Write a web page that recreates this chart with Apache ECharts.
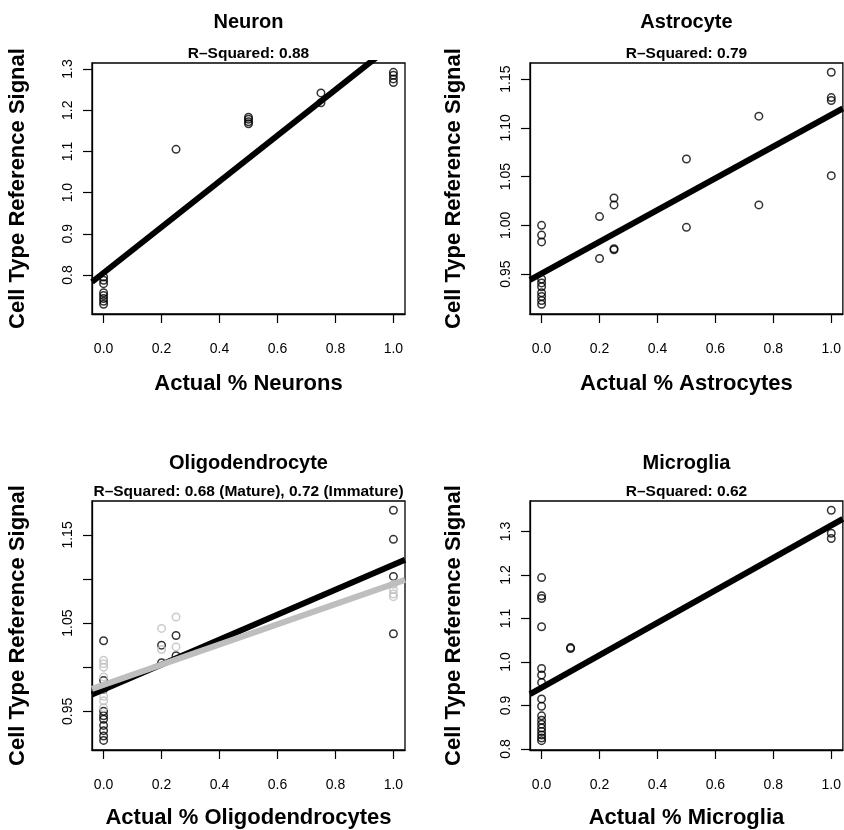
<!DOCTYPE html>
<html>
<head>
<meta charset="utf-8">
<script src="https://cdn.jsdelivr.net/npm/echarts@6/dist/echarts.min.js"></script>
<style>
html,body{margin:0;padding:0;background:#fff;}
#chart{width:844px;height:830px;}
</style>
</head>
<body>
<div id="chart"></div>
<script>
// ---------------- data ----------------
const panelTitles = ['Neuron', 'Astrocyte', 'Oligodendrocyte', 'Microglia'];
const panelSubtitles = ['R\u2013Squared: 0.88', 'R\u2013Squared: 0.79',
  'R\u2013Squared: 0.68 (Mature), 0.72 (Immature)', 'R\u2013Squared: 0.62'];
const xAxisTitles = ['Actual % Neurons', 'Actual % Astrocytes',
  'Actual % Oligodendrocytes', 'Actual % Microglia'];
const yAxisTitle = 'Cell Type Reference Signal';
const xTicks = [0, 0.2, 0.4, 0.6, 0.8, 1.0];

const neuronX = [0,0,0,0,0,0,0,0, 0.25, 0.5,0.5,0.5,0.5, 0.75,0.75, 1,1,1,1];
const neuronY = [0.795,0.787,0.779,0.757,0.750,0.743,0.736,0.729, 1.105,
  1.183,1.178,1.172,1.167, 1.242,1.218, 1.292,1.285,1.276,1.267];
const neuronFitX = [-0.04, 1.04];
const neuronFitY = [0.783, 1.383];
const neuronYTicks = [0.8, 0.9, 1.0, 1.1, 1.2, 1.3];
const neuronYLabels = [0.8, 0.9, 1.0, 1.1, 1.2, 1.3];

const astroX = [0,0,0,0,0,0,0,0,0,0, 0.2,0.2, 0.25,0.25,0.25,0.25, 0.5,0.5, 0.75,0.75, 1,1,1,1];
const astroY = [1.000,0.990,0.983,0.945,0.941,0.937,0.931,0.927,0.923,0.919,
  1.009,0.966, 1.028,1.021,0.976,0.975, 1.068,0.998, 1.112,1.021, 1.157,1.131,1.128,1.051];
const astroFitX = [-0.04, 1.04];
const astroFitY = [0.944, 1.120];
const astroYTicks = [0.95, 1.00, 1.05, 1.10, 1.15];
const astroYLabels = [0.95, 1.00, 1.05, 1.10, 1.15];

const oligoMatureX = [0,0,0,0,0,0,0,0,0,0, 0.2,0.2, 0.25,0.25, 1,1,1,1];
const oligoMatureY = [1.030,0.985,0.975,0.950,0.945,0.941,0.934,0.928,0.922,0.917,
  1.025,1.005, 1.036,1.013, 1.178,1.145,1.103,1.038];
const oligoImmatureX = [0,0,0,0,0,0,0,0, 0.2,0.2, 0.25,0.25, 1,1,1,1];
const oligoImmatureY = [1.008,1.004,1.000,0.989,0.978,0.967,0.962,0.954,
  1.044,1.020, 1.057,1.023, 1.094,1.088,1.083,1.080];
const oligoMatureFitX = [-0.04, 1.04];
const oligoMatureFitY = [0.969, 1.122];
const oligoImmatureFitX = [-0.04, 1.04];
const oligoImmatureFitY = [0.9755, 1.099];
const oligoYTicks = [0.95, 1.00, 1.05, 1.10, 1.15];
const oligoYLabels = [0.95, 1.05, 1.15];

const microX = [0,0,0,0,0,0,0,0,0,0,0,0,0,0,0,0,0, 0.1,0.1, 1,1,1];
const microY = [1.194,1.152,1.146,1.081,0.985,0.970,0.953,0.915,0.898,0.876,
  0.866,0.857,0.848,0.840,0.832,0.825,0.819, 1.033,1.031, 1.349,1.296,1.284];
const microFitX = [-0.04, 1.04];
const microFitY = [0.926, 1.329];
const microYTicks = [0.8, 0.9, 1.0, 1.1, 1.2, 1.3];
const microYLabels = [0.8, 0.9, 1.0, 1.1, 1.2, 1.3];

// ---------------- layout / style ----------------
const FONT = '"Liberation Sans", Arial, Helvetica, sans-serif';
const zip = (xs, ys) => xs.map((x, i) => [x, ys[i]]);

const grids = [
  {left: 92, top: 63, width: 313, height: 251},
  {left: 530, top: 63, width: 313, height: 251},
  {left: 92, top: 501, width: 313, height: 250},
  {left: 530, top: 501, width: 313, height: 250}
];
const yRanges = [[0.7053, 1.3146], [0.9091, 1.1665], [0.9061, 1.1885], [0.7975, 1.3702]];
const yTickSets = [neuronYTicks, astroYTicks, oligoYTicks, microYTicks];
const yLabelSets = [neuronYLabels, astroYLabels, oligoYLabels, microYLabels];
const yDecimals = [1, 2, 2, 1];
const xNameGaps = [59, 59, 57, 57];
const yNameGaps = [63, 65, 63, 65];

const tickStyle = {show: true, inside: false, length: 9, lineStyle: {color: '#000', width: 1.2}};
const lineStyleAxis = {show: true, onZero: false, lineStyle: {color: '#000', width: 1.3}};

const xAxes = grids.map((g, i) => ({
  type: 'value', gridIndex: i, min: -0.04, max: 1.04,
  axisLine: lineStyleAxis,
  splitLine: {show: false},
  axisTick: Object.assign({customValues: xTicks}, tickStyle),
  axisLabel: {customValues: xTicks, color: '#000', fontSize: 14, fontFamily: FONT, margin: 28,
    formatter: v => v.toFixed(1)},
  name: xAxisTitles[i], nameLocation: 'middle', nameGap: xNameGaps[i],
  nameTextStyle: {color: '#000', fontSize: 22, fontWeight: 'bold', fontFamily: FONT}
}));

const yAxes = grids.map((g, i) => ({
  type: 'value', gridIndex: i, min: yRanges[i][0], max: yRanges[i][1],
  axisLine: lineStyleAxis,
  splitLine: {show: false},
  axisTick: Object.assign({customValues: yTickSets[i]}, tickStyle),
  axisLabel: {customValues: yLabelSets[i], rotate: 90, color: '#000', fontSize: 14,
    fontFamily: FONT, margin: 17, formatter: v => v.toFixed(yDecimals[i])},
  name: yAxisTitle, nameLocation: 'middle', nameGap: yNameGaps[i],
  nameTextStyle: {color: '#000', fontSize: 22, fontWeight: 'bold', fontFamily: FONT}
}));

const circle = (color) => ({
  type: 'scatter', symbol: 'circle', symbolSize: 7.5, silent: true,
  itemStyle: {color: 'rgba(0,0,0,0)', borderColor: color, borderWidth: 1.5}
});
const fitLine = (color) => ({
  type: 'line', showSymbol: false, symbol: 'none', clip: true, silent: true,
  lineStyle: {color: color, width: 6, cap: 'butt'}
});

const series = [
  Object.assign(circle('#000'), {xAxisIndex: 0, yAxisIndex: 0, data: zip(neuronX, neuronY)}),
  Object.assign(fitLine('#000'), {xAxisIndex: 0, yAxisIndex: 0, data: zip(neuronFitX, neuronFitY)}),
  Object.assign(circle('#000'), {xAxisIndex: 1, yAxisIndex: 1, data: zip(astroX, astroY)}),
  Object.assign(fitLine('#000'), {xAxisIndex: 1, yAxisIndex: 1, data: zip(astroFitX, astroFitY)}),
  Object.assign(circle('#000'), {xAxisIndex: 2, yAxisIndex: 2, data: zip(oligoMatureX, oligoMatureY)}),
  Object.assign(circle('#bebebe'), {xAxisIndex: 2, yAxisIndex: 2, data: zip(oligoImmatureX, oligoImmatureY)}),
  Object.assign(fitLine('#000'), {xAxisIndex: 2, yAxisIndex: 2, data: zip(oligoMatureFitX, oligoMatureFitY)}),
  Object.assign(fitLine('#bebebe'), {xAxisIndex: 2, yAxisIndex: 2, data: zip(oligoImmatureFitX, oligoImmatureFitY)}),
  Object.assign(circle('#000'), {xAxisIndex: 3, yAxisIndex: 3, data: zip(microX, microY)}),
  Object.assign(fitLine('#000'), {xAxisIndex: 3, yAxisIndex: 3, data: zip(microFitX, microFitY)})
];

const titleY = [22, 22, 463, 463];
const subY = [54, 54, 492, 492];
const graphics = [];
grids.forEach((g, i) => {
  const cx = g.left + g.width / 2;
  graphics.push({type: 'text', x: cx, y: titleY[i], silent: true,
    style: {text: panelTitles[i], fill: '#000', font: 'bold 20px ' + FONT, align: 'center', verticalAlign: 'middle'}});
  graphics.push({type: 'text', x: cx, y: subY[i], silent: true,
    style: {text: panelSubtitles[i], fill: '#000', font: 'bold 15.5px ' + FONT, align: 'center', verticalAlign: 'middle'}});
});

const chart = echarts.init(document.getElementById('chart'), null, {renderer: 'canvas'});
chart.setOption({
  animation: false,
  backgroundColor: '#fff',
  grid: grids.map(g => Object.assign({show: true, borderColor: '#000', borderWidth: 1.3,
    backgroundColor: 'rgba(0,0,0,0)', containLabel: false}, g)),
  xAxis: xAxes,
  yAxis: yAxes,
  series: series,
  graphic: graphics
});
</script>
</body>
</html>
